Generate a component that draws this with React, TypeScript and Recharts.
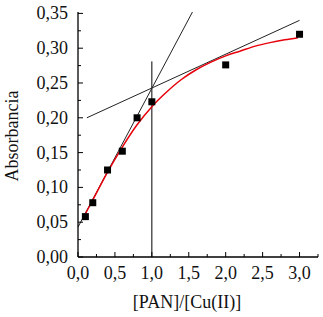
import React from "react";
import {
  ComposedChart,
  Line,
  Scatter,
  XAxis,
  YAxis,
  ReferenceLine,
  Label,
} from "recharts";

// medidas (puntos negros)
const ratioPoints = [0.1, 0.2, 0.4, 0.6, 0.8, 1.0, 2.0, 3.0];
const absPoints = [0.058, 0.078, 0.125, 0.152, 0.2, 0.223, 0.276, 0.32];

// curva roja ajustada
const fitX = [0.07, 0.2, 0.4, 0.6, 0.8, 1.0, 1.2, 1.4, 1.6, 1.8, 2.0, 2.2, 2.4, 2.6, 2.8, 2.98];
const fitY = [0.056, 0.082, 0.122, 0.158, 0.19, 0.216, 0.237, 0.255, 0.269, 0.28, 0.289, 0.296, 0.303, 0.308, 0.312, 0.315];

// rectas tangentes
const steepX = [0, 1.55];
const steepY = [0.043, 0.352];
const flatX = [0.12, 3.0];
const flatY = [0.2, 0.34];

// linea vertical en la estequiometria
const stoichX = 1.0;
const stoichTop = 0.281;

const xTicks = [0, 0.25, 0.5, 0.75, 1, 1.25, 1.5, 1.75, 2, 2.25, 2.5, 2.75, 3, 3.25];
const yTicks = [0, 0.025, 0.05, 0.075, 0.1, 0.125, 0.15, 0.175, 0.2, 0.225, 0.25, 0.275, 0.3, 0.325, 0.35];

const zip = (xs: number[], ys: number[]) => xs.map((x, i) => ({ x, y: ys[i] }));

const points = zip(ratioPoints, absPoints);
const fit = zip(fitX, fitY);
const steep = zip(steepX, steepY);
const flat = zip(flatX, flatY);

const FONT = "'Liberation Serif', 'Times New Roman', serif";
const TXT = "#111";

const isMajor = (v: number, step: number) => Math.abs(v / step - Math.round(v / step)) < 1e-6;

const XTick = ({ x, y, payload }: any) => {
  const major = isMajor(payload.value, 0.5);
  return (
    <g>
      <line x1={x} x2={x} y1={y} y2={y - (major ? 5 : 3)} stroke="#000" strokeWidth={1} />
      {major && (
        <text x={x} y={y + 22} textAnchor="middle" fontFamily={FONT} fontSize={18} fill={TXT}>
          {payload.value.toFixed(1).replace(".", ",")}
        </text>
      )}
    </g>
  );
};

const YTick = ({ x, y, payload }: any) => {
  const major = isMajor(payload.value, 0.05);
  return (
    <g>
      <line x1={x} x2={x + (major ? 5 : 3)} y1={y} y2={y} stroke="#000" strokeWidth={1} />
      {major && (
        <text x={x - 10} y={y + 6} textAnchor="end" fontFamily={FONT} fontSize={18} fill={TXT}>
          {payload.value.toFixed(2).replace(".", ",")}
        </text>
      )}
    </g>
  );
};

const Square = ({ cx, cy }: any) => <rect x={cx - 3.5} y={cy - 3.5} width={7} height={7} fill="#000" />;

export default function App() {
  return (
    <div style={{ position: "absolute", left: 0, top: 0, background: "#fff" }}>
      <ComposedChart width={323} height={317} margin={{ top: 12, right: 5, left: 0, bottom: 0 }}>
        <XAxis
          dataKey="x"
          type="number"
          domain={[0, 3.25]}
          ticks={xTicks}
          interval={0}
          height={60}
          tickSize={0}
          tickMargin={0}
          tickLine={false}
          tick={<XTick />}
          axisLine={{ stroke: "#000", strokeWidth: 1.3 }}
          allowDecimals
        >
          <Label
            content={() => (
              <text x={187} y={308} textAnchor="middle" fontFamily={FONT} fontSize={18} fill={TXT}>
                [PAN]/[Cu(II)]
              </text>
            )}
          />
        </XAxis>
        <YAxis
          dataKey="y"
          type="number"
          domain={[0, 0.35]}
          ticks={yTicks}
          interval={0}
          width={78}
          tickSize={0}
          tickMargin={0}
          tickLine={false}
          tick={<YTick />}
          axisLine={{ stroke: "#000", strokeWidth: 1.3 }}
        >
          <Label
            content={() => (
              <text
                x={17.5}
                y={136}
                transform="rotate(-90 17.5 136)"
                textAnchor="middle"
                fontFamily={FONT}
                fontSize={18}
                fill={TXT}
              >
                Absorbancia
              </text>
            )}
          />
        </YAxis>
        <ReferenceLine
          segment={[
            { x: stoichX, y: 0 },
            { x: stoichX, y: stoichTop },
          ]}
          stroke="#000"
          strokeWidth={1}
        />
        <Line data={steep} dataKey="y" type="linear" stroke="#222" strokeWidth={1} dot={false} isAnimationActive={false} />
        <Line data={flat} dataKey="y" type="linear" stroke="#222" strokeWidth={1} dot={false} isAnimationActive={false} />
        <Line data={fit} dataKey="y" type="monotone" stroke="#e8000b" strokeWidth={1.5} dot={false} isAnimationActive={false} />
        <Scatter data={points} dataKey="y" shape={<Square />} isAnimationActive={false} />
      </ComposedChart>
    </div>
  );
}
